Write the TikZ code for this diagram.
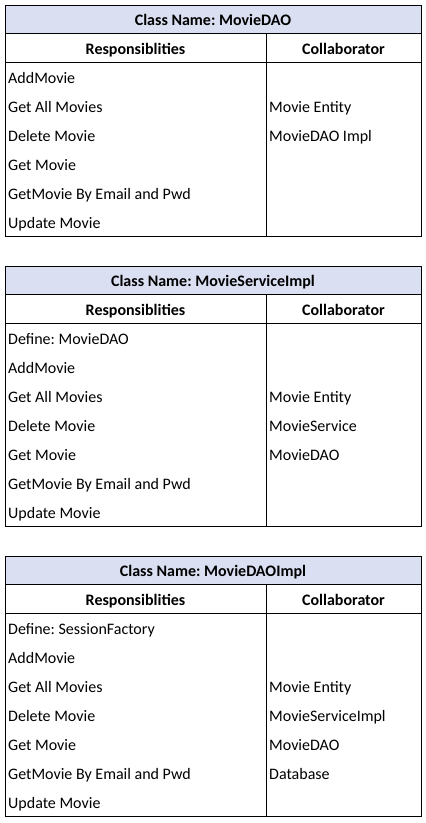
\documentclass[tikz,border=0pt]{standalone}
\usepackage{fontspec}
\setmainfont{Carlito}
\frenchspacing
\definecolor{hdrfill}{RGB}{218,224,242}
\tikzset{
  frame/.style={draw=black, line width=0.9pt},
  titletxt/.style={anchor=base, inner sep=0pt, font=\fontsize{16}{18}\selectfont\bfseries},
  celltxt/.style={anchor=base west, inner sep=0pt, font=\fontsize{16}{18}\selectfont},
}
\newcommand{\crctable}[5]{%
  % #1 name, #2 top, #3 title, #4 number of rows, #5 responsibilities
  \pgfmathsetmacro{\tT}{#2}
  \pgfmathsetmacro{\tH}{#2+28.5}
  \pgfmathsetmacro{\tR}{#2+57}
  \pgfmathsetmacro{\tB}{#2+57+29*#4}
  \fill[hdrfill] (5,\tT) rectangle (421,\tH);
  \draw[frame] (5,\tT) rectangle (421,\tB);
  \draw[frame] (5,\tH) -- (421,\tH);
  \draw[frame] (5,\tR) -- (421,\tR);
  \draw[frame] (266,\tH) -- (266,\tB);
  \node[titletxt] (#1title) at (213,\tT+20.5) {Class Name: #3};
  \node[titletxt] (#1resp) at (135.5,\tH+20.5) {Responsiblities};
  \node[titletxt] (#1collab) at (343.5,\tH+20.5) {Collaborator};
  \foreach \txt [count=\i] in {#5} {
    \node[celltxt] (#1r\i) at (8,\tR+29*\i-7.5) {\txt};
  }
}
\begin{document}
\begin{tikzpicture}[x=1pt,y=-1pt]
\useasboundingbox (0,0) rectangle (426,823);
\fill[white] (0,0) rectangle (426,823);
% Table 1
\crctable{a}{5}{MovieDAO}{6}{AddMovie,Get All Movies,Delete Movie,Get Movie,GetMovie By Email and Pwd,Update Movie}
\node[celltxt] (ac2) at (269,5+57+29*2-7.5) {Movie Entity};
\node[celltxt] (ac3) at (269,5+57+29*3-7.5) {MovieDAO Impl};
% Table 2
\crctable{b}{266}{MovieServiceImpl}{7}{Define: MovieDAO,AddMovie,Get All Movies,Delete Movie,Get Movie,GetMovie By Email and Pwd,Update Movie}
\node[celltxt] (bc3) at (269,266+57+29*3-7.5) {Movie Entity};
\node[celltxt] (bc4) at (269,266+57+29*4-7.5) {MovieService};
\node[celltxt] (bc5) at (269,266+57+29*5-7.5) {MovieDAO};
% Table 3
\crctable{c}{556}{MovieDAOImpl}{7}{Define: SessionFactory,AddMovie,Get All Movies,Delete Movie,Get Movie,GetMovie By Email and Pwd,Update Movie}
\node[celltxt] (cc3) at (269,556+57+29*3-7.5) {Movie Entity};
\node[celltxt] (cc4) at (269,556+57+29*4-7.5) {MovieServiceImpl};
\node[celltxt] (cc5) at (269,556+57+29*5-7.5) {MovieDAO};
\node[celltxt] (cc6) at (269,556+57+29*6-7.5) {Database};
\end{tikzpicture}
\end{document}
